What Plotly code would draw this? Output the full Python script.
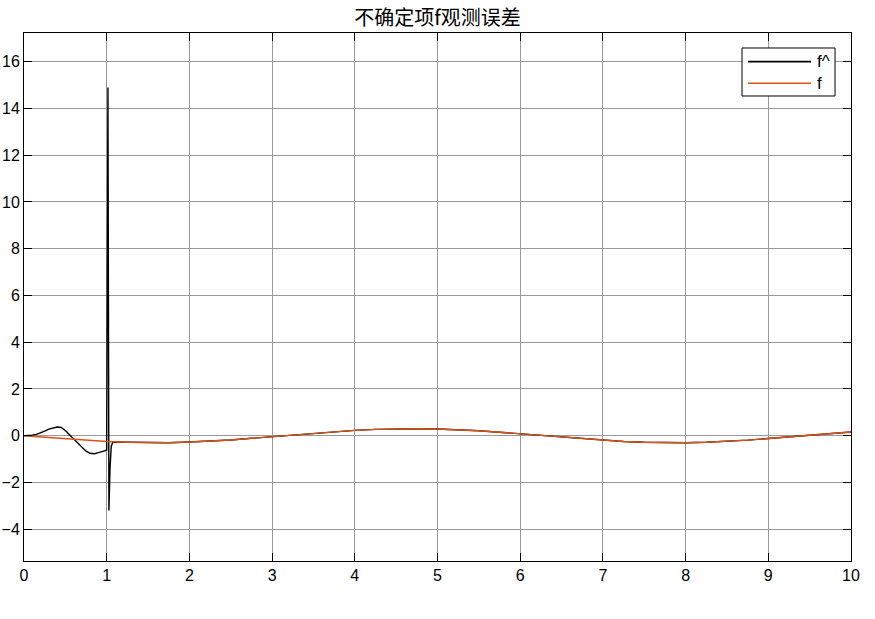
import plotly.graph_objects as go

# Orange series f
x_f = [0, 0.25, 0.5, 0.75, 1.0, 1.25, 1.5, 1.75, 2.0, 2.25, 2.5, 2.75, 3.0, 3.25, 3.5, 3.75,
       4.0, 4.25, 4.5, 4.75, 5.0, 5.25, 5.5, 5.75, 6.0, 6.25, 6.5, 6.75, 7.0, 7.25, 7.5, 7.75,
       8.0, 8.25, 8.5, 8.75, 9.0, 9.25, 9.5, 9.75, 10.0]
y_f = [0, -0.07, -0.14, -0.20, -0.25, -0.28, -0.30, -0.30, -0.27, -0.23, -0.18, -0.11, -0.04,
       0.03, 0.11, 0.17, 0.23, 0.27, 0.29, 0.30, 0.29, 0.26, 0.21, 0.15, 0.08, 0.01, -0.06,
       -0.13, -0.20, -0.25, -0.28, -0.30, -0.30, -0.28, -0.24, -0.19, -0.12, -0.05, 0.02, 0.10, 0.16]

# Black series f^ (observer estimate)
x_fh = [0, 0.05, 0.1, 0.15, 0.2, 0.25, 0.3, 0.35, 0.4, 0.45, 0.5, 0.55, 0.6, 0.65, 0.7,
        0.75, 0.8, 0.85, 0.9, 0.95, 1.0, 1.015, 1.027, 1.04, 1.055, 1.075,
        1.25, 1.5, 1.75, 2.0, 2.25, 2.5, 2.75, 3.0, 3.25, 3.5, 3.75,
        4.0, 4.25, 4.5, 4.75, 5.0, 5.25, 5.5, 5.75, 6.0, 6.25, 6.5, 6.75, 7.0, 7.25, 7.5, 7.75,
        8.0, 8.25, 8.5, 8.75, 9.0, 9.25, 9.5, 9.75, 10.0]
y_fh = [0, 0.0, 0.02, 0.06, 0.12, 0.20, 0.28, 0.34, 0.37, 0.35, 0.22, 0.04, -0.14, -0.34,
        -0.52, -0.66, -0.75, -0.77, -0.72, -0.67, -0.62, 14.9, -3.2, -1.4, -0.45, -0.27,
        -0.28, -0.30, -0.30, -0.27, -0.23, -0.18, -0.11, -0.04,
        0.03, 0.11, 0.17, 0.23, 0.27, 0.29, 0.30, 0.29, 0.26, 0.21, 0.15, 0.08, 0.01, -0.06,
        -0.13, -0.20, -0.25, -0.28, -0.30, -0.30, -0.28, -0.24, -0.19, -0.12, -0.05, 0.02, 0.10, 0.16]

series_names = ["f^", "f"]
series_colors = ["#000000", "#D95319"]

x_ticks = list(range(0, 11))
y_ticks = [-4, -2, 0, 2, 4, 6, 8, 10, 12, 14, 16]

fig = go.Figure()
fig.add_trace(go.Scatter(x=x_fh, y=y_fh, mode="lines", name=series_names[0],
                         line=dict(color=series_colors[0], width=1.4), showlegend=False))
fig.add_trace(go.Scatter(x=x_f, y=y_f, mode="lines", name=series_names[1],
                         line=dict(color=series_colors[1], width=1.4), showlegend=False))

axis_common = dict(showline=True, linecolor="black", linewidth=1, mirror="allticks",
                   ticks="inside", ticklen=8, tickcolor="black", showgrid=True,
                   gridcolor="#999999", gridwidth=1, zeroline=False, automargin=False,
                   tickfont=dict(family="Liberation Sans, Arial", size=16, color="black"))

# Manual MATLAB-style legend (box, long line samples, labels) in paper coordinates
leg_x0, leg_x1, leg_y0, leg_y1 = 0.8682, 0.9807, 0.8807, 0.9716
sample_x0, sample_x1, label_x = 0.8755, 0.9516, 0.9565
row_y = [0.9457, 0.9047]

shapes = [dict(type="rect", xref="paper", yref="paper", x0=leg_x0, x1=leg_x1,
               y0=leg_y0, y1=leg_y1, line=dict(color="black", width=1),
               fillcolor="white", layer="above")]
annotations = []
for name, color, yy in zip(series_names, series_colors, row_y):
    shapes.append(dict(type="line", xref="paper", yref="paper", x0=sample_x0, x1=sample_x1,
                       y0=yy, y1=yy, line=dict(color=color, width=1.6), layer="above"))
    annotations.append(dict(xref="paper", yref="paper", x=label_x, y=yy, text=name,
                            showarrow=False, xanchor="left", yanchor="middle",
                            font=dict(family="Liberation Sans, Arial", size=17, color="black")))

fig.update_layout(
    width=875, height=619,
    margin=dict(l=24, r=24, t=33, b=58),
    paper_bgcolor="white", plot_bgcolor="white",
    title=dict(text="不确定项f观测误差", x=0.5, xref="paper", xanchor="center",
               y=0.971, yanchor="middle",
               font=dict(family="Noto Sans CJK SC", size=20, color="black")),
    xaxis=dict(range=[0, 10], tickvals=x_ticks, **axis_common),
    yaxis=dict(range=[-5.36, 17.23], tickvals=y_ticks, **axis_common),
    shapes=shapes,
    annotations=annotations,
    showlegend=False,
)

fig.write_html("out.html", config={"displayModeBar": False},
               post_script="document.body.style.margin='0px';")
